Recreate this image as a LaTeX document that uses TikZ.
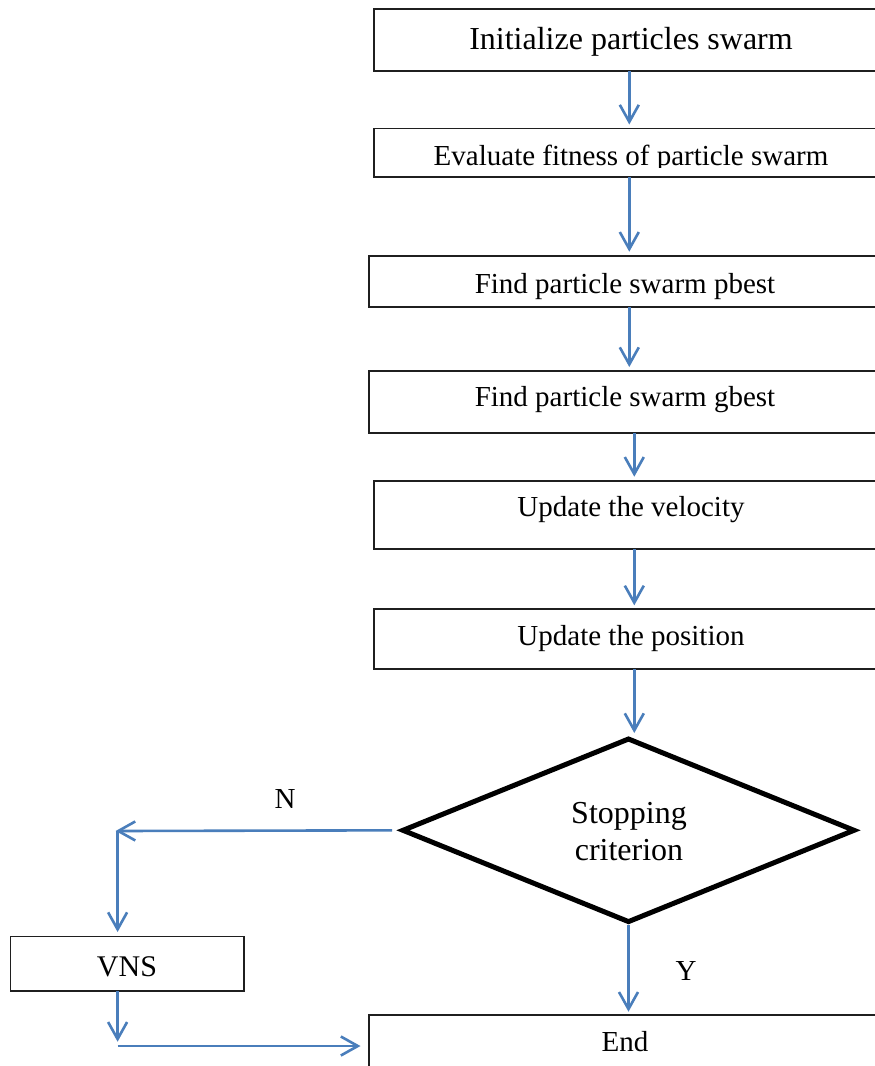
\documentclass[tikz,border=0pt]{standalone}
\usepackage{fontspec}
\setmainfont{Liberation Serif}
\usetikzlibrary{arrows.meta,shapes.geometric}
\definecolor{arrowblue}{HTML}{4A7EBB}
\begin{document}
\begin{tikzpicture}[x=1pt,y=-1pt,
  box/.style={draw=black!88, line width=1.7pt, rectangle, inner sep=0pt, outer sep=0pt},
  arr/.style={draw=arrowblue, line width=2.6pt, line cap=butt, -{Straight Barb[length=17pt,width=19pt]}},
  lbl/.style={inner sep=0pt, anchor=base},
  fa/.style={font=\fontsize{29}{34}\selectfont},
  fb/.style={font=\fontsize{32}{38}\selectfont}]
\clip (0,0) rectangle (875,1066);
\fill[white] (0,0) rectangle (875,1066);

% columns for connectors
\coordinate (colA) at (629.3,0);
\coordinate (colB) at (634.3,0);

% boxes
\node[box, minimum width=515.7pt, minimum height=61.4pt] (b1) at (632.15,40) {};
\node[box, minimum width=515.7pt, minimum height=48.3pt] (b2) at (632.15,152.65) {};
\node[box, minimum width=521.3pt, minimum height=51.3pt] (b3) at (629.35,281.35) {};
\node[box, minimum width=521.3pt, minimum height=62pt] (b4) at (629.35,402) {};
\node[box, minimum width=515.7pt, minimum height=68.3pt] (b5) at (632.15,514.85) {};
\node[box, minimum width=515.7pt, minimum height=60pt] (b6) at (632.15,639.3) {};
\node[diamond, draw=black, line width=5pt, line join=miter, minimum width=451pt, minimum height=182.6pt, inner sep=0pt, outer sep=0pt] (dia) at (628.5,830.3) {};
\node[box, minimum width=233.5pt, minimum height=54.8pt] (vns) at (127.25,963.9) {};
\node[box, minimum width=521pt, minimum height=84.7pt] (end) at (629.5,1057.65) {};

% texts
\node[lbl, fb] (t1) at (631,49) {Initialize particles swarm};
\begin{scope}
  \clip (376,130) rectangle (875,167);
  \node[lbl, fa] (t2) at (631,165.7) {Evaluate fitness of particle swarm};
\end{scope}
\node[lbl, fa] (t3) at (625,293.3) {Find particle swarm pbest};
\node[lbl, fa] (t4) at (625,406.7) {Find particle swarm gbest};
\node[lbl, fa] (t5) at (631,516.7) {Update the velocity};
\node[lbl, fa] (t6) at (631,645) {Update the position};
\node[lbl, fb] (ts1) at (629,823) {Stopping};
\node[lbl, fb] (ts2) at (629,860) {criterion};
\node[lbl, font=\fontsize{30}{36}\selectfont] (tv) at (127,976) {VNS};
\node[lbl, fa] (te) at (625,1051.7) {End};
\node[lbl, fa] (tn) at (285,808) {N};
\node[lbl, fa] (ty) at (686,980) {Y};

% connectors
\draw[arr, shorten >=4pt] (b1.south -| colA) -- (b2.north -| colA);
\draw[arr, shorten >=4pt] (b2.south -| colA) -- (b3.north -| colA);
\draw[arr, shorten >=4pt] (b3.south -| colA) -- (b4.north -| colA);
\draw[arr, shorten >=4pt] (b4.south -| colB) -- (b5.north -| colB);
\draw[arr, shorten >=4pt] (b5.south -| colB) -- (b6.north -| colB);
\draw[arr, shorten >=6pt] (b6.south -| colB) -- (dia.north -| colB);
\draw[arr, shorten <=3pt, shorten >=3.6pt] (dia.south) -- (end.north -| dia.south);

\coordinate (cN) at (117.6,831);
\coordinate (cV) at (117.6,1046);
\draw[arr, shorten <=11pt, shorten >=-2pt] (dia.west) -- (cN);
\draw[arr, shorten >=4.5pt] (cN) -- (vns.north -| cN);
\draw[arr, shorten >=4.3pt] (vns.south -| cV) -- (cV);
\draw[arr, shorten >=8.5pt] (cV) -- (end.west |- cV);
\end{tikzpicture}
\end{document}
